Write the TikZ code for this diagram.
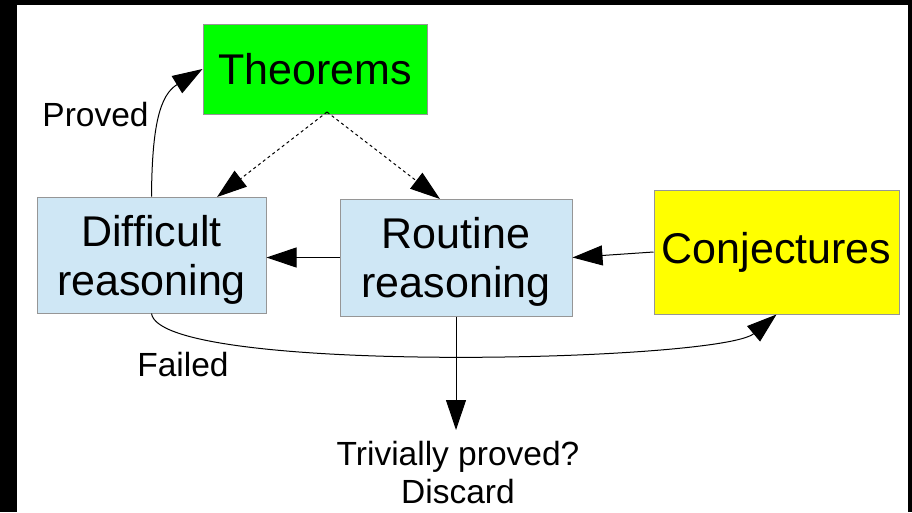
\documentclass[tikz,border=0pt]{standalone}
\usepackage{fontspec}
\setmainfont{Liberation Sans}
\usetikzlibrary{arrows.meta}
\definecolor{paleblue}{RGB}{207,231,245}
\definecolor{boxgreen}{RGB}{0,255,0}
\definecolor{boxyellow}{RGB}{255,255,0}
\definecolor{boxline}{RGB}{150,150,150}
\newcommand{\toppad}{\rule{0pt}{40pt}}
\tikzset{
  box/.style={draw=boxline, line width=1pt, inner sep=0pt, align=center,
    font=\fontsize{43}{49}\selectfont},
  lbl/.style={inner sep=0pt, align=center, font=\fontsize{33.5}{38}\selectfont},
  arr/.style={line width=1pt, -{Triangle[length=30pt,width=20pt]}},
  dasharr/.style={arr, dash pattern=on 3pt off 3pt},
}
\begin{document}
\begin{tikzpicture}[x=1pt,y=-1pt]
\useasboundingbox (0,0) rectangle (912,512);
\fill[black] (0,0) rectangle (912,512);
\fill[white] (17,5) rectangle (908,512);

\node[box, fill=boxgreen, minimum width=224pt, minimum height=90pt] (T) at (315,69) {Theorems};
\node[box, fill=paleblue, minimum width=229pt, minimum height=116pt] (D) at (151.5,255) {\toppad Difficult\\reasoning};
\node[box, fill=paleblue, minimum width=232pt, minimum height=117pt] (R) at (456,257.5) {\toppad Routine\\reasoning};
\node[box, fill=boxyellow, minimum width=245pt, minimum height=124pt] (C) at (776.5,252) {Conjectures};

\node[lbl] (proved) at (95.5,115) {Proved};
\node[lbl] (failed) at (183,365) {Failed};
\node[lbl] (triv) at (458,473) {Trivially proved?\\Discard};

\coordinate (Tdash) at (327,112);
\coordinate (Dtop) at (217,197);
\coordinate (Rtop) at (440,199);
\coordinate (Rdown) at (456,430);

\draw[arr] (D.north) .. controls (152,125) and (160,95) .. (T.west);
\draw[dasharr] (Tdash) -- (Dtop);
\draw[dasharr] (Tdash) -- (Rtop);
\draw[arr] (R.west) -- (D.east |- R.west);
\draw[arr] (C.west) -- (R.east);
\draw[arr] (D.south) .. controls (160,375) and (720,362) .. (C.south);
\draw[arr] (R.south) -- (Rdown);
\end{tikzpicture}
\end{document}
